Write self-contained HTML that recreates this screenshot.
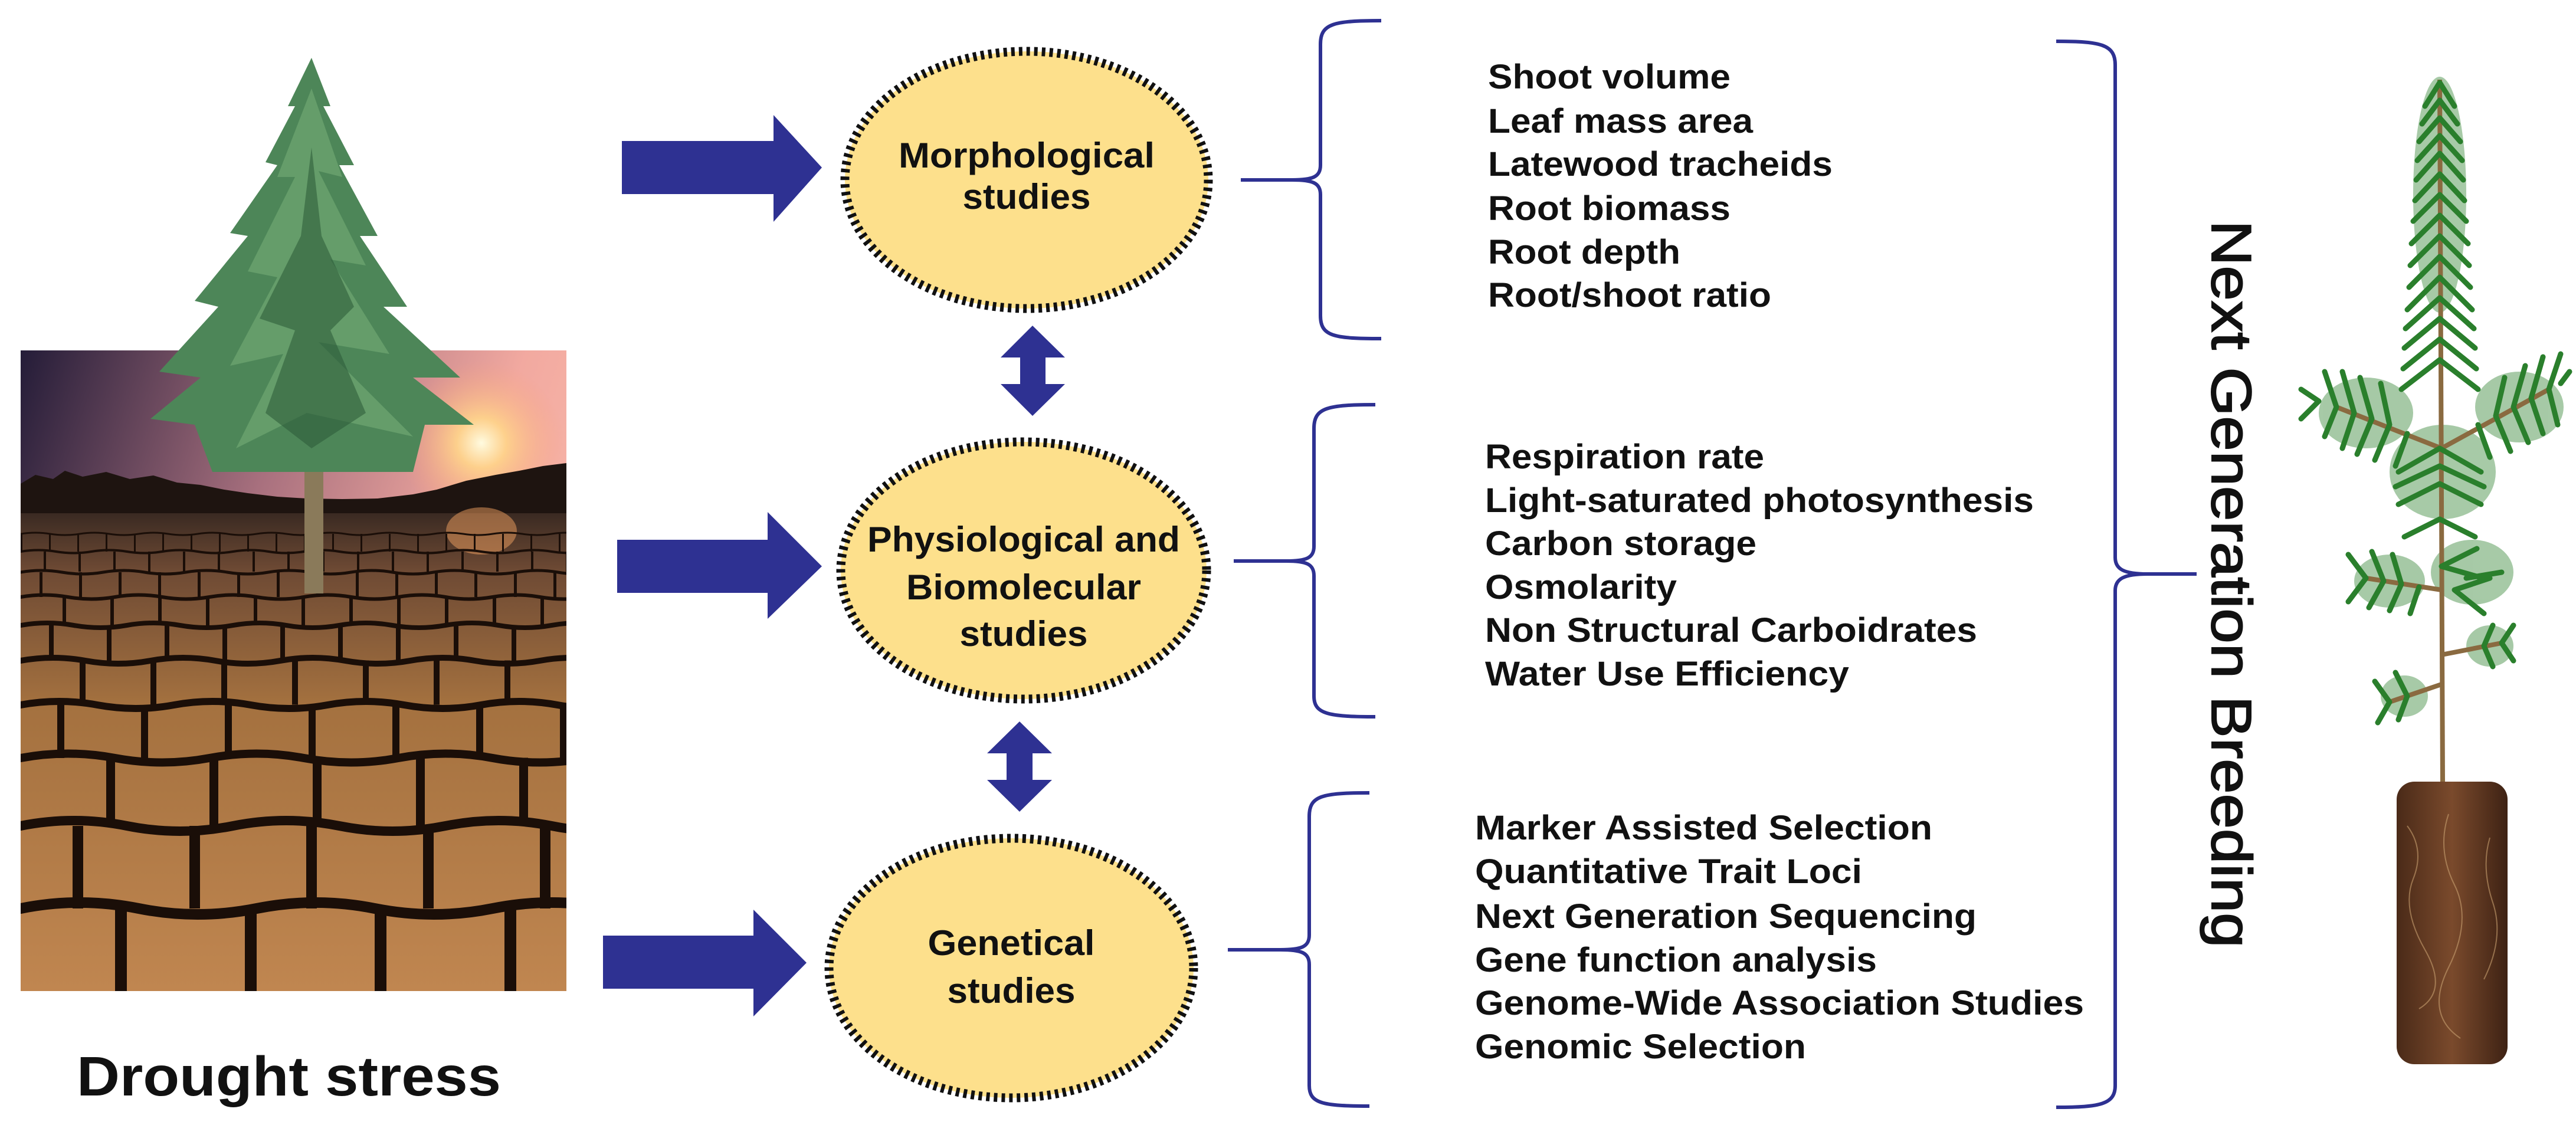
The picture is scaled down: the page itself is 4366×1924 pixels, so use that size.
<!DOCTYPE html>
<html><head><meta charset="utf-8"><style>html,body{margin:0;padding:0;background:#fff}svg{display:block}</style></head>
<body>
<svg width="4366" height="1924" viewBox="0 0 4366 1924" xmlns="http://www.w3.org/2000/svg">
<defs>
<linearGradient id="sky" x1="0" y1="0" x2="1" y2="0.4">
<stop offset="0" stop-color="#241c38"/><stop offset="0.45" stop-color="#a8707e"/><stop offset="0.8" stop-color="#f2a9a0"/><stop offset="1" stop-color="#f7b6a8"/></linearGradient>
<radialGradient id="sun" cx="816" cy="751" r="140" gradientUnits="userSpaceOnUse">
<stop offset="0" stop-color="#fffbe0"/><stop offset="0.3" stop-color="#ffd58a" stop-opacity="0.9"/><stop offset="1" stop-color="#f7a080" stop-opacity="0"/></radialGradient>
<linearGradient id="ground" x1="0" y1="0" x2="0" y2="1">
<stop offset="0" stop-color="#3a2a22"/><stop offset="0.12" stop-color="#6e4a34"/><stop offset="0.4" stop-color="#a4713f"/><stop offset="1" stop-color="#c08650"/></linearGradient>
<linearGradient id="pot" x1="0" y1="0" x2="1" y2="0">
<stop offset="0" stop-color="#4a2a18"/><stop offset="0.5" stop-color="#7a4a2c"/><stop offset="1" stop-color="#3e2214"/></linearGradient>
<clipPath id="ph"><rect x="35" y="594" width="925" height="1086"/></clipPath>
</defs>
<rect width="4366" height="1924" fill="#fff"/>

<!-- Photo -->
<g clip-path="url(#ph)">
<rect x="35" y="594" width="925" height="1086" fill="url(#sky)"/>
<rect x="35" y="594" width="925" height="300" fill="url(#sun)"/>
<path d="M35 820 L60 805 L90 812 L110 798 L140 808 L180 800 L220 812 L260 806 L300 818 L340 822 L380 830 L420 836 L470 842 L520 845 L580 846 L640 845 L700 838 L740 830 L790 815 L840 805 L880 798 L920 790 L960 785 L960 890 L35 890 Z" fill="#1e1410"/>
<rect x="35" y="870" width="925" height="810" fill="url(#ground)"/>
<ellipse cx="816" cy="900" rx="60" ry="40" fill="#f0a060" opacity="0.5"/>
<g stroke="#1a0e08" fill="none" stroke-linecap="round">
<path d="M35 905 q25 -4 50 0 t50 0 t50 0 t50 0 t50 0 t50 0 t50 0 t50 0 t50 0 t50 0 t50 0 t50 0 t50 0 t50 0 t50 0 t50 0 t50 0 t50 0 t50 0" stroke-width="3"/>
<path d="M35 935 q30 -5 60 0 t60 0 t60 0 t60 0 t60 0 t60 0 t60 0 t60 0 t60 0 t60 0 t60 0 t60 0 t60 0 t60 0 t60 0 t60 0" stroke-width="4"/>
<path d="M35 970 q35 -6 70 0 t70 0 t70 0 t70 0 t70 0 t70 0 t70 0 t70 0 t70 0 t70 0 t70 0 t70 0 t70 0 t70 0" stroke-width="5"/>
<path d="M35 1012 q40 -7 80 0 t80 0 t80 0 t80 0 t80 0 t80 0 t80 0 t80 0 t80 0 t80 0 t80 0 t80 0" stroke-width="6"/>
<path d="M35 1060 q45 -8 90 0 t90 0 t90 0 t90 0 t90 0 t90 0 t90 0 t90 0 t90 0 t90 0 t90 0" stroke-width="8"/>
<path d="M35 1120 q55 -10 110 0 t110 0 t110 0 t110 0 t110 0 t110 0 t110 0 t110 0 t110 0" stroke-width="10"/>
<path d="M35 1195 q65 -12 130 0 t130 0 t130 0 t130 0 t130 0 t130 0 t130 0 t130 0" stroke-width="12"/>
<path d="M35 1285 q80 -15 160 0 t160 0 t160 0 t160 0 t160 0 t160 0" stroke-width="14"/>
<path d="M35 1400 q90 -18 180 0 t180 0 t180 0 t180 0 t180 0 t180 0" stroke-width="16"/>
<path d="M35 1540 q100 -20 200 0 t200 0 t200 0 t200 0 t200 0" stroke-width="18"/>
</g>
<g stroke="#1a0e08" fill="none">
<line x1="35" y1="920" x2="960" y2="920" stroke-width="30" stroke-dasharray="3 45"/>
<line x1="35" y1="952" x2="960" y2="952" stroke-width="34" stroke-dasharray="4 55" stroke-dashoffset="20"/>
<line x1="35" y1="991" x2="960" y2="991" stroke-width="42" stroke-dasharray="5 62" stroke-dashoffset="35"/>
<line x1="35" y1="1036" x2="960" y2="1036" stroke-width="48" stroke-dasharray="6 75" stroke-dashoffset="10"/>
<line x1="35" y1="1090" x2="960" y2="1090" stroke-width="60" stroke-dasharray="8 90" stroke-dashoffset="50"/>
<line x1="35" y1="1157" x2="960" y2="1157" stroke-width="75" stroke-dasharray="10 110" stroke-dashoffset="20"/>
<line x1="35" y1="1240" x2="960" y2="1240" stroke-width="90" stroke-dasharray="12 130" stroke-dashoffset="80"/>
<line x1="35" y1="1342" x2="960" y2="1342" stroke-width="115" stroke-dasharray="15 160" stroke-dashoffset="30"/>
<line x1="35" y1="1470" x2="960" y2="1470" stroke-width="140" stroke-dasharray="18 180" stroke-dashoffset="110"/>
<line x1="35" y1="1610" x2="960" y2="1610" stroke-width="140" stroke-dasharray="20 200" stroke-dashoffset="60"/>
</g>
</g>
<!-- Tree -->
<rect x="516" y="790" width="32" height="216" fill="#8a7a5a"/>
<g fill="#4d8658">
<polygon points="528,98 560,180 548,180 600,280 575,280 640,400 610,400 690,520 650,520 780,640 700,640 803,720 720,720 700,800 360,800 330,720 255,710 340,640 270,630 370,520 330,510 420,400 390,395 470,280 450,275 500,180 488,180"/>
</g>
<g fill="#6fa672" opacity="0.7">
<polygon points="528,150 580,300 540,290 620,450 560,440 660,600 540,580 700,740 520,700 400,760 480,600 390,620 470,470 420,460 500,300 470,300"/>
</g>
<g fill="#2f5e3a" opacity="0.6">
<polygon points="528,250 545,400 600,520 560,560 620,700 528,760 450,700 500,560 440,540 510,400"/>
</g>

<!-- Left arrows -->
<g fill="#2e3192">
<polygon points="1054,239 1311,239 1311,195 1393,284 1311,376 1311,329 1054,329"/>
<polygon points="1046,915 1301,915 1301,868 1393,960 1301,1049 1301,1005 1046,1005"/>
<polygon points="1022,1586 1277,1586 1277,1542 1367,1632 1277,1723 1277,1676 1022,1676"/>
<polygon points="1750,552 1805,606 1772,606 1772,651 1805,651 1750,705 1696,651 1729,651 1729,606 1696,606"/>
<polygon points="1728,1223 1783,1277 1750,1277 1750,1322 1783,1322 1728,1376 1673,1322 1706,1322 1706,1277 1673,1277"/>
</g>

<!-- Ellipses -->
<g fill="#fde08c" stroke="#111" stroke-width="15" stroke-dasharray="6 7">
<ellipse cx="1740" cy="305" rx="308" ry="218"/>
<ellipse cx="1735" cy="967" rx="310" ry="218"/>
<ellipse cx="1714" cy="1641" rx="309" ry="220"/>
</g>
<g font-family="'Liberation Sans Narrow','Liberation Sans',sans-serif" font-weight="bold" font-size="60" fill="#111" text-anchor="middle">
<text x="1740" y="284" textLength="434" lengthAdjust="spacingAndGlyphs">Morphological</text>
<text x="1740" y="354" textLength="217" lengthAdjust="spacingAndGlyphs">studies</text>
<text x="1735" y="935" textLength="530" lengthAdjust="spacingAndGlyphs">Physiological and</text>
<text x="1735" y="1016" textLength="398" lengthAdjust="spacingAndGlyphs">Biomolecular</text>
<text x="1735" y="1095" textLength="217" lengthAdjust="spacingAndGlyphs">studies</text>
<text x="1714" y="1619" textLength="283" lengthAdjust="spacingAndGlyphs">Genetical</text>
<text x="1714" y="1700" textLength="217" lengthAdjust="spacingAndGlyphs">studies</text>
</g>

<!-- Braces -->
<g fill="none" stroke="#2e3192" stroke-width="6">
<path d="M2341,35 C2260,35 2238,40 2238,75 L2238,280 C2238,300 2225,305 2190,305 L2103,305 M2190,305 C2225,305 2238,310 2238,330 L2238,535 C2238,570 2260,574 2341,574"/>
<path d="M2331,686 C2250,686 2227,691 2227,726 L2227,926 C2227,946 2214,951 2180,951 L2091,951 M2180,951 C2214,951 2227,956 2227,976 L2227,1180 C2227,1210 2250,1215 2331,1215"/>
<path d="M2321,1344 C2240,1344 2219,1349 2219,1384 L2219,1585 C2219,1605 2206,1610 2170,1610 L2081,1610 M2170,1610 C2206,1610 2219,1615 2219,1635 L2219,1840 C2219,1870 2240,1875 2321,1875"/>
<path d="M3485,70 C3560,70 3585,75 3585,110 L3585,945 C3585,965 3600,973 3640,973 L3723,973 M3640,973 C3600,973 3585,981 3585,1001 L3585,1840 C3585,1872 3560,1877 3485,1877"/>
</g>

<!-- Right text lists -->
<g font-family="'Liberation Sans',Arial,sans-serif" font-weight="bold" font-size="58" fill="#111">
<text x="2522" y="150" textLength="411" lengthAdjust="spacingAndGlyphs">Shoot volume</text>
<text x="2522" y="225" textLength="449" lengthAdjust="spacingAndGlyphs">Leaf mass area</text>
<text x="2522" y="298" textLength="584" lengthAdjust="spacingAndGlyphs">Latewood tracheids</text>
<text x="2522" y="373" textLength="411" lengthAdjust="spacingAndGlyphs">Root biomass</text>
<text x="2522" y="447" textLength="326" lengthAdjust="spacingAndGlyphs">Root depth</text>
<text x="2522" y="520" textLength="480" lengthAdjust="spacingAndGlyphs">Root/shoot ratio</text>
<text x="2517" y="794" textLength="473" lengthAdjust="spacingAndGlyphs">Respiration rate</text>
<text x="2517" y="868" textLength="930" lengthAdjust="spacingAndGlyphs">Light-saturated photosynthesis</text>
<text x="2517" y="941" textLength="460" lengthAdjust="spacingAndGlyphs">Carbon storage</text>
<text x="2517" y="1015" textLength="325" lengthAdjust="spacingAndGlyphs">Osmolarity</text>
<text x="2517" y="1088" textLength="834" lengthAdjust="spacingAndGlyphs">Non Structural Carboidrates</text>
<text x="2517" y="1162" textLength="617" lengthAdjust="spacingAndGlyphs">Water Use Efficiency</text>
<text x="2500" y="1423" textLength="775" lengthAdjust="spacingAndGlyphs">Marker Assisted Selection</text>
<text x="2500" y="1497" textLength="656" lengthAdjust="spacingAndGlyphs">Quantitative Trait Loci</text>
<text x="2500" y="1573" textLength="850" lengthAdjust="spacingAndGlyphs">Next Generation Sequencing</text>
<text x="2500" y="1647" textLength="681" lengthAdjust="spacingAndGlyphs">Gene function analysis</text>
<text x="2500" y="1720" textLength="1032" lengthAdjust="spacingAndGlyphs">Genome-Wide Association Studies</text>
<text x="2500" y="1794" textLength="561" lengthAdjust="spacingAndGlyphs">Genomic Selection</text>
</g>

<text transform="translate(3783,990) rotate(90)" x="0" y="34" text-anchor="middle" font-family="'Liberation Sans',Arial,sans-serif" font-size="96" fill="#111" stroke="#111" stroke-width="2" textLength="1233" lengthAdjust="spacingAndGlyphs">Next Generation Breeding</text>

<text x="130" y="1857" font-family="'Liberation Sans',Arial,sans-serif" font-weight="bold" font-size="95" fill="#111" textLength="719" lengthAdjust="spacingAndGlyphs">Drought stress</text>

<!-- Seedling -->
<g fill="#3c8a3c" opacity="0.45">
<ellipse cx="4135" cy="330" rx="45" ry="200"/>
<ellipse cx="4010" cy="700" rx="80" ry="60"/>
<ellipse cx="4270" cy="690" rx="75" ry="60"/>
<ellipse cx="4140" cy="800" rx="90" ry="80"/>
<ellipse cx="4050" cy="985" rx="60" ry="45"/>
<ellipse cx="4190" cy="970" rx="70" ry="55"/>
<ellipse cx="4075" cy="1180" rx="40" ry="35"/>
<ellipse cx="4220" cy="1095" rx="40" ry="35"/>
</g>
<g stroke="#8a6a40" stroke-width="8" fill="none">
<line x1="4135" y1="135" x2="4140" y2="1330"/>
<line x1="4138" y1="760" x2="3960" y2="690"/>
<line x1="4138" y1="760" x2="4320" y2="660"/>
<line x1="4138" y1="1000" x2="4010" y2="980"/>
<line x1="4138" y1="1160" x2="4050" y2="1190"/>
<line x1="4138" y1="1110" x2="4240" y2="1090"/>
</g>
<g stroke="#2a7f2c" stroke-width="9" fill="none" stroke-linecap="round">
<path d="M4135 140 l-25 40 M4135 140 l25 40 M4135 200 l-35 40 M4135 200 l35 40 M4135 260 l-40 45 M4135 260 l40 45 M4135 330 l-45 45 M4135 330 l45 45 M4135 400 l-50 50 M4135 400 l50 50 M4135 470 l-55 55 M4135 470 l55 55 M4135 540 l-60 50 M4135 540 l60 50 M4135 610 l-65 50 M4135 610 l65 50 M4135 170 l-30 40 M4135 170 l30 40 M4135 230 l-38 42 M4135 230 l38 42 M4135 295 l-42 45 M4135 295 l42 45 M4135 365 l-48 48 M4135 365 l48 48 M4135 435 l-52 52 M4135 435 l52 52 M4135 505 l-58 52 M4135 505 l58 52 M4135 575 l-62 50 M4135 575 l62 50"/>
<path d="M3960 690 l-20 -60 M3990 700 l-20 -70 M4020 710 l-20 -70 M4050 720 l-15 -70 M3960 690 l-20 50 M3990 700 l-20 60 M4020 710 l-25 60 M4050 720 l-25 60 M4080 735 l-20 55 M3930 680 l-30 -20 M3930 680 l-30 30"/>
<path d="M4320 660 l20 -60 M4290 675 l20 -70 M4260 690 l20 -70 M4230 705 l15 -65 M4320 660 l15 60 M4290 675 l20 60 M4260 690 l25 60 M4230 705 l25 60 M4200 720 l20 55 M4340 650 l15 -20"/>
<path d="M4135 760 l-70 40 M4135 760 l70 40 M4135 820 l-70 35 M4135 820 l70 35 M4135 880 l-60 30 M4135 880 l60 30 M4135 790 l-75 35 M4135 790 l75 35"/>
<path d="M4010 980 l-30 -40 M4040 985 l-20 -50 M4070 990 l-15 -50 M4010 980 l-30 40 M4040 985 l-25 45 M4070 990 l-20 45 M4100 995 l-15 45"/>
<path d="M4138 960 l60 -30 M4138 960 l70 20 M4160 1000 l60 -20 M4160 1000 l50 40 M4180 980 l60 -10"/>
<path d="M4050 1190 l-25 -35 M4080 1180 l-20 -40 M4050 1190 l-20 35 M4080 1180 l-15 40 M4240 1090 l20 -30 M4210 1095 l15 -35 M4240 1090 l20 30 M4210 1095 l15 35"/>
</g>
<rect x="4062" y="1325" width="188" height="479" rx="30" fill="url(#pot)"/>
<g stroke="#c8a070" stroke-width="2" fill="none" opacity="0.6">
<path d="M4080 1400 q30 40 10 90 t20 120 t-10 100"/>
<path d="M4150 1380 q-20 60 10 120 t-10 140 t20 120"/>
<path d="M4220 1420 q-15 50 5 110 t-15 130"/>
</g>
</svg>
</body></html>
